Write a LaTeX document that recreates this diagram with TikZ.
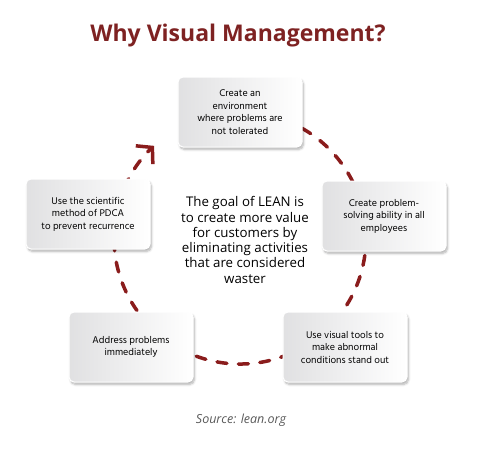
\documentclass[tikz,border=0pt]{standalone}
\usepackage{fontspec}
\setmainfont{Open Sans}
\newfontfamily\boxfont{Hind Madurai}
\usetikzlibrary{arrows.meta,shadows.blur}

\definecolor{leanred}{HTML}{7E2222}
\definecolor{ringred}{HTML}{8A1C1C}

\tikzset{
  stage/.style={rounded corners=5pt, draw=white, line width=1pt,
    left color=blue!5!black!12, right color=white,
    blur shadow={shadow xshift=1.5pt, shadow yshift=-2.5pt, shadow opacity=30, shadow blur steps=6},
    minimum width=124pt, minimum height=70pt, align=center,
    font=\boxfont\fontsize{10}{12.5}\selectfont},
  ring/.style={draw=ringred, line width=3.5pt, line cap=round,
    dash pattern=on 10pt off 11.5pt}
}

\begin{document}
\begin{tikzpicture}[x=1pt,y=-1pt,>={Straight Barb[length=11pt,width=25pt]}]
	\useasboundingbox (0,0) rectangle (479,456);

	% title and source
	\node(title) at (238,36) {\fontsize{23}{27}\selectfont\bfseries\color{leanred}Why Visual Management?};
	\node(source) at (241,420) {\fontsize{12.5}{15}\selectfont\itshape\color{black!65}Source: lean.org};

	% dashed ring behind the boxes
	\coordinate(c) at (240,238);
	\draw[ring,->] ([shift={(-80:126)}]c) arc[start angle=-80, end angle=227, radius=126];

	\node(goal) at (245,240) [align=center,font=\fontsize{13.3}{15.3}\selectfont]
		{The goal of LEAN is\\to create more value\\for customers by\\eliminating activities\\that are considered\\waster};

	\node(env)     [stage] at (240,112) {Create an\\environment\\where problems are\\not tolerated};
	\node(solve)   [stage] at (384,216) {Create problem-\\solving ability in all\\employees};
	\node(visual)  [stage] at (345,347) {Use visual tools to\\make abnormal\\conditions stand out};
	\node(address) [stage] at (131,347) {Address problems\\immediately};
	\node(pdca)    [stage] at (88,214)  {Use the scientific\\method of PDCA\\to prevent recurrence};
\end{tikzpicture}
\end{document}
